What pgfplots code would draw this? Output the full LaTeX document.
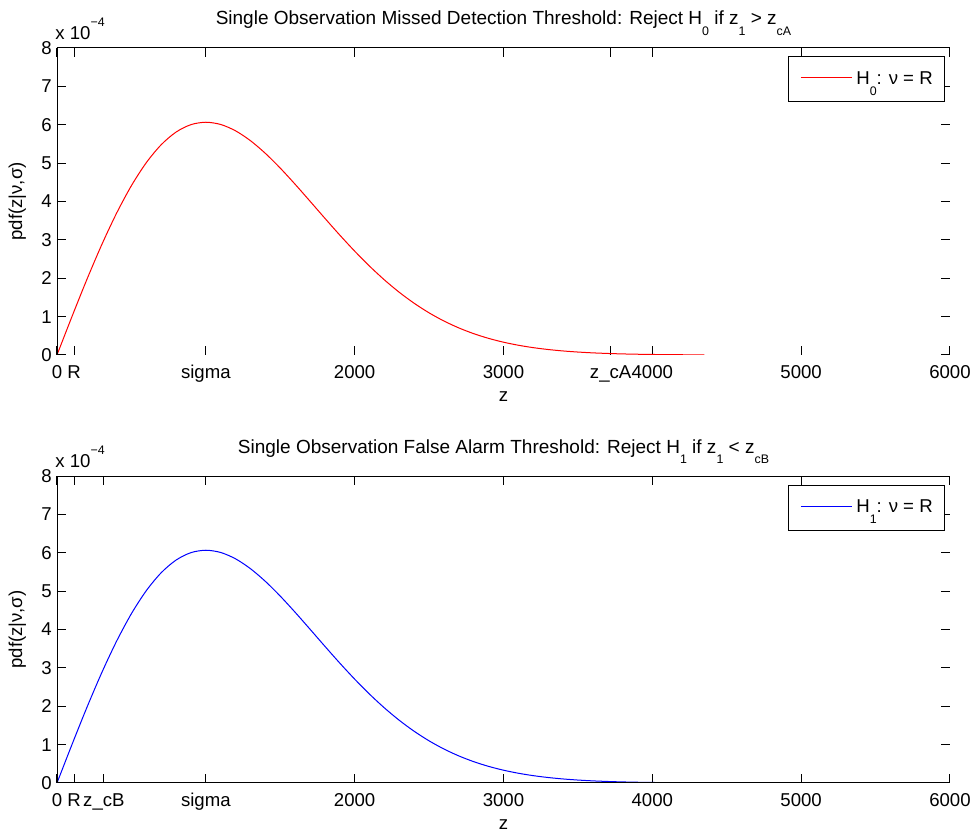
\documentclass[border=0pt]{standalone}
\usepackage{fontspec}
\setmainfont{Liberation Sans}
\usepackage{pgfplots}
\usepackage{pgfplotstable}
\pgfplotsset{compat=1.18}
\newcommand{\sub}[1]{\raisebox{-1.05ex}{\fontsize{6.2}{7}\selectfont #1}}
\newcommand{\supr}[1]{\raisebox{1.35ex}{\fontsize{6.2}{7}\selectfont #1}}

% Rayleigh pdf, values in units of 1e-4
\pgfplotstableread{
z f
0 0
100 0.9950
200 1.9604
300 2.8680
400 3.6925
500 4.4125
600 5.0116
700 5.4789
800 5.8092
900 6.0028
1000 6.0653
1100 6.0068
1200 5.8410
1300 5.5843
1400 5.2544
1500 4.8698
1600 4.4486
1700 4.0078
1800 3.5622
1900 3.1249
2000 2.7067
2100 2.3153
2200 1.9563
2300 1.6331
2400 1.3472
2500 1.0984
2600 0.8852
2700 0.7053
2800 0.5555
2900 0.4327
3000 0.3333
3100 0.2538
3200 0.1912
3300 0.1425
3400 0.1050
3500 0.0766
3600 0.0552
3700 0.0394
3800 0.0278
3900 0.0194
4000 0.0134
4100 0.0092
4200 0.0062
4300 0.0042
4350 0.0034
}\rayA

\pgfplotstableread{
z f
0 0
100 0.9950
200 1.9604
300 2.8680
400 3.6925
500 4.4125
600 5.0116
700 5.4789
800 5.8092
900 6.0028
1000 6.0653
1100 6.0068
1200 5.8410
1300 5.5843
1400 5.2544
1500 4.8698
1600 4.4486
1700 4.0078
1800 3.5622
1900 3.1249
2000 2.7067
2100 2.3153
2200 1.9563
2300 1.6331
2400 1.3472
2500 1.0984
2600 0.8852
2700 0.7053
2800 0.5555
2900 0.4327
3000 0.3333
3100 0.2538
3200 0.1912
3300 0.1425
3400 0.1050
3500 0.0766
3600 0.0552
3700 0.0394
3800 0.0278
3900 0.0194
4000 0.0134
4100 0.0092
4200 0.0062
4300 0.0042
4400 0.0028
4500 0.0018
4600 0.0012
4800 0.0005
5000 0.0002
5500 0
6000 0
}\rayB

\pgfplotsset{
  myax/.style={
    scale only axis, width=446.5pt, height=153.5pt,
    anchor=south west,
    xmin=0, xmax=6000, ymin=0, ymax=8,
    ytick={0,1,2,3,4,5,6,7,8},
    axis line style={draw=none},
    major tick style={draw=black, line width=0.5pt},
    major tick length=4.5pt,
    tick align=inside,
    /pgf/number format/assume math mode=true,
    x tick label style={anchor=base, yshift=-11.7pt},
    y tick label style={anchor=east, inner xsep=2.5pt},
  }
}

\begin{document}
\fontsize{9.3}{11}\selectfont
\begin{tikzpicture}
\path[use as bounding box] (0,0) rectangle (488pt,416.5pt);

\begin{axis}[myax, name=top, at={(28.5pt,239pt)},
  xtick={0,115,1000,2000,3000,3720,4000,5000,6000},
  xticklabels={0,R,sigma,2000,3000,z\_cA,4000,5000,6000}]
\addplot[red, line width=0.5pt, smooth] table[x=z, y=f] {\rayA};
\end{axis}

\begin{axis}[myax, name=bot, at={(28.5pt,25pt)},
  xtick={0,115,315,1000,2000,3000,4000,5000,6000},
  xticklabels={0,R,z\_cB,sigma,2000,3000,4000,5000,6000}]
\addplot[blue, line width=0.5pt, smooth] table[x=z, y=f] {\rayB};
\end{axis}

% axis lines
\draw[line width=0.5pt] (top.south west) -- (top.north west) -- (top.north east);
\draw[line width=0.5pt] (bot.south east) -- (bot.south west) -- (bot.north west) -- (bot.north east);

% legends
\foreach \ax/\col/\idx in {top/red/0, bot/blue/1} {
  \draw[line width=0.5pt, fill=white] ([xshift=-80.5pt,yshift=-4.5pt]\ax.north east) rectangle ([xshift=-2.5pt,yshift=-27pt]\ax.north east);
  \draw[\col, line width=0.5pt] ([xshift=-74.5pt,yshift=-15pt]\ax.north east) -- ([xshift=-49pt,yshift=-15pt]\ax.north east);
  \node[anchor=base west, inner sep=0] at ([xshift=-47pt,yshift=-18.4pt]\ax.north east) {H\sub{\idx}: ν = R};
}

% titles
\node[anchor=base, inner sep=0, font=\fontsize{9.5}{11}\selectfont] at ([yshift=11.5pt]top.north) {Single Observation Missed Detection Threshold: Reject H\sub{0} if z\sub{1} > z\sub{cA}};
\node[anchor=base, inner sep=0, font=\fontsize{9.5}{11}\selectfont] at ([yshift=11.5pt]bot.north) {Single Observation False Alarm Threshold: Reject H\sub{1} if z\sub{1} < z\sub{cB}};

% exponent labels
\node[anchor=base west, inner sep=0] at ([xshift=-1pt,yshift=4.35pt]top.north west) {x 10\supr{−4}};
\node[anchor=base west, inner sep=0] at ([xshift=-1pt,yshift=4.35pt]bot.north west) {x 10\supr{−4}};

% x labels
\node[anchor=base, inner sep=0] at ([yshift=-23.5pt]top.south) {z};
\node[anchor=base, inner sep=0] at ([yshift=-23.5pt]bot.south) {z};

% y labels
\node[rotate=90, anchor=base, inner sep=0] at ([xshift=-17.5pt]top.west) {pdf(z|ν,σ)};
\node[rotate=90, anchor=base, inner sep=0] at ([xshift=-17.5pt]bot.west) {pdf(z|ν,σ)};
\end{tikzpicture}
\end{document}
